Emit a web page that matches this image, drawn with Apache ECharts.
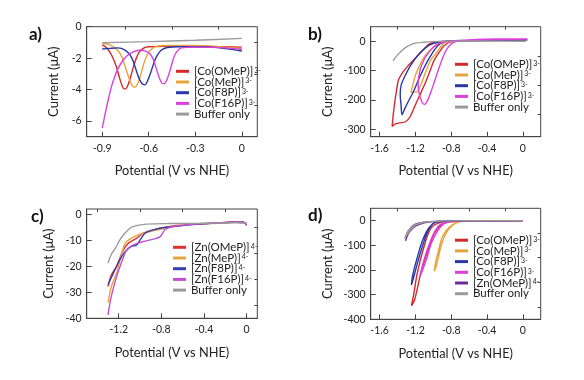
<!DOCTYPE html>
<html><head><meta charset="utf-8">
<script src="https://cdn.jsdelivr.net/npm/echarts@6/dist/echarts.min.js"></script>
<style>html,body{margin:0;padding:0;background:#fff}#c{width:584px;height:380px}</style>
</head><body><div id="c"></div>
<script>
// ---------- DATA ----------
const panelLabels = ['a)', 'b)', 'c)', 'd)'];
const xTitle = 'Potential (V vs NHE)';
const yTitle = 'Current (\u03bcA)';

// tick labels (major) and minor tick positions
const aXTicks = [-0.9, -0.6, -0.3, 0];
const aXMinor = [-0.75, -0.45, -0.15];
const aYTicks = [0, -2, -4, -6];
const aYMinor = [-1, -3, -5];
const bXTicks = [-1.6, -1.2, -0.8, -0.4, 0];
const bXMinor = [-1.4, -1.0, -0.6, -0.2];
const bYTicks = [0, -100, -200, -300];
const bYMinor = [-50, -150, -250];
const cXTicks = [-1.2, -0.8, -0.4, 0];
const cXMinor = [-1.4, -1.0, -0.6, -0.2];
const cYTicks = [0, -10, -20, -30, -40];
const cYMinor = [-5, -15, -25, -35];
const dXTicks = [-1.6, -1.2, -0.8, -0.4, 0];
const dXMinor = [-1.4, -1.0, -0.6, -0.2];
const dYTicks = [0, -100, -200, -300, -400];
const dYMinor = [-50, -150, -250, -350];

// series names (complex name + charge shown as superscript)
const coNames = ['[Co(OMeP)]|3-', '[Co(MeP)]|3-', '[Co(F8P)]|3-', '[Co(F16P)]|3-'];
const znNames = ['[Zn(OMeP)]|4-', '[Zn(MeP)]|4-', '[Zn(F8P)]|4-', '[Zn(F16P)]|4-'];
const bufferName = 'Buffer only';

// panel a (V, uA)
const aOMeP = [[-0.9,-1.15],[-0.87,-1.35],[-0.84,-1.8],[-0.81,-2.5],[-0.79,-3.2],[-0.77,-3.8],[-0.755,-3.97],[-0.74,-3.85],[-0.72,-3.3],[-0.70,-2.6],[-0.68,-2.0],[-0.66,-1.6],[-0.63,-1.35],[-0.6,-1.28],[-0.5,-1.25],[-0.3,-1.25],[-0.1,-1.28],[0,-1.3]];
const aMeP = [[-0.9,-1.05],[-0.85,-1.15],[-0.8,-1.5],[-0.77,-2.0],[-0.75,-2.6],[-0.73,-3.2],[-0.71,-3.7],[-0.69,-3.85],[-0.67,-3.6],[-0.65,-3.0],[-0.63,-2.3],[-0.61,-1.8],[-0.58,-1.4],[-0.55,-1.25],[-0.5,-1.2],[-0.3,-1.2],[-0.1,-1.3],[0,-1.4]];
const aF8P = [[-0.9,-1.42],[-0.85,-1.38],[-0.8,-1.35],[-0.75,-1.5],[-0.72,-1.8],[-0.7,-2.2],[-0.68,-2.8],[-0.66,-3.35],[-0.64,-3.65],[-0.625,-3.7],[-0.61,-3.5],[-0.59,-3.0],[-0.57,-2.4],[-0.55,-1.9],[-0.52,-1.5],[-0.48,-1.32],[-0.4,-1.28],[-0.2,-1.3],[0,-1.55]];
const aF16P = [[-0.9,-6.45],[-0.88,-5.5],[-0.86,-4.6],[-0.84,-3.8],[-0.82,-3.2],[-0.8,-2.7],[-0.77,-2.2],[-0.74,-1.85],[-0.7,-1.6],[-0.66,-1.5],[-0.62,-1.55],[-0.59,-1.75],[-0.57,-2.1],[-0.55,-2.7],[-0.53,-3.3],[-0.51,-3.62],[-0.495,-3.6],[-0.48,-3.3],[-0.46,-2.7],[-0.44,-2.0],[-0.42,-1.6],[-0.39,-1.35],[-0.3,-1.3],[-0.1,-1.35],[0,-1.45]];
const aBuffer = [[-0.9,-1.02],[-0.6,-0.95],[-0.3,-0.86],[0,-0.74]];

// panel b (cyclic scans)
const bOMeP = [[0.05,6],[-0.4,4],[-0.7,1],[-0.8,-1],[-0.88,-15],[-0.93,-35],[-0.99,-64],[-1.04,-103],[-1.1,-149],[-1.16,-189],[-1.21,-223],[-1.26,-257],[-1.31,-274],[-1.38,-278],[-1.43,-282],[-1.46,-290],[-1.45,-255],[-1.43,-205],[-1.41,-165],[-1.39,-132],[-1.34,-105],[-1.29,-86],[-1.17,-47],[-1.1,-25],[-1.04,-8],[-0.95,-1],[-0.6,2],[-0.2,4],[0.05,6]];
const bMeP = [[0.05,5],[-0.5,3],[-0.8,0],[-0.88,-5],[-0.93,-24],[-0.98,-45],[-1.03,-64],[-1.08,-100],[-1.13,-140],[-1.17,-168],[-1.2,-173],[-1.25,-173],[-1.23,-150],[-1.2,-115],[-1.15,-80],[-1.1,-52],[-1.0,-20],[-0.9,-4],[-0.7,1],[0.05,5]];
const bF8P = [[0.05,5],[-0.5,3],[-0.85,0],[-0.95,-15],[-1.05,-60],[-1.15,-120],[-1.22,-170],[-1.28,-205],[-1.32,-230],[-1.35,-250],[-1.36,-220],[-1.37,-180],[-1.36,-150],[-1.32,-120],[-1.25,-80],[-1.15,-40],[-1.05,-14],[-0.95,-3],[-0.8,1],[0.05,5]];
const bF16P = [[0.05,8],[-0.3,8],[-0.6,5],[-0.72,1],[-0.78,-4],[-0.83,-18],[-0.88,-45],[-0.93,-85],[-0.98,-130],[-1.03,-175],[-1.07,-205],[-1.1,-215],[-1.13,-205],[-1.16,-175],[-1.17,-145],[-1.15,-100],[-1.1,-60],[-1.03,-30],[-0.97,-12],[-0.88,-2],[-0.7,3],[0.05,8]];
const bBuffer = [[0.03,0],[-0.5,1],[-0.9,0],[-1.0,-1],[-1.1,-3],[-1.2,-6],[-1.25,-11],[-1.3,-19],[-1.35,-31],[-1.4,-46],[-1.45,-66]];

// panel c
const cOMeP = [[-1.3,-27.8],[-1.27,-23.5],[-1.22,-20],[-1.19,-17],[-1.156,-13.7],[-1.11,-11.2],[-1.03,-9.2],[-0.97,-7.3],[-0.875,-6],[-0.69,-4.5],[-0.44,-3.7],[-0.2,-3.2],[-0.06,-2.9],[-0.02,-3.2],[0,-4.3]];
const cMeP = [[-1.3,-34],[-1.27,-28],[-1.22,-22.7],[-1.17,-15],[-1.14,-11.2],[-1.08,-9.2],[-1.0,-7.7],[-0.906,-6.7],[-0.81,-5.8],[-0.69,-4.7],[-0.44,-3.8],[-0.2,-3.3],[-0.06,-3.0],[-0.02,-3.3],[0,-4.3]];
const cF8P = [[-1.3,-27],[-1.25,-22.7],[-1.19,-17.6],[-1.14,-14.4],[-1.08,-12.4],[-1.03,-11.8],[-1.0,-9.9],[-0.953,-7.3],[-0.875,-6],[-0.75,-5],[-0.44,-3.8],[-0.2,-3.2],[-0.06,-2.9],[-0.02,-3.2],[0,-4.1]];
const cF16P = [[-1.3,-38.7],[-1.27,-31.7],[-1.22,-24],[-1.17,-18.2],[-1.125,-13.7],[-1.06,-11.8],[-0.97,-10.5],[-0.875,-9.6],[-0.81,-8.6],[-0.766,-6],[-0.69,-4.7],[-0.44,-3.7],[-0.2,-3.2],[-0.06,-2.9],[-0.02,-3.2],[0,-4.2]];
const cBuffer = [[-1.3,-18.8],[-1.27,-15.5],[-1.23,-13],[-1.19,-10],[-1.156,-8],[-1.1,-5.6],[-1.06,-4.7],[-0.94,-3.8],[-0.7,-3.6],[-0.44,-3.5],[-0.1,-3.3],[0,-3.5]];

// panel d (cyclic scans)
const dOMeP = [[0,0],[-0.5,-1],[-0.7,-3],[-0.82,-5],[-0.92,-19],[-0.99,-52],[-1.06,-120],[-1.14,-214],[-1.21,-322],[-1.245,-345],[-1.22,-300],[-1.18,-214],[-1.1,-100],[-1.03,-32],[-0.93,-8],[-0.8,-2],[0,0]];
const dMeP = [[0,0],[-0.5,-1],[-0.64,-2],[-0.71,-5],[-0.785,-19],[-0.86,-53],[-0.916,-106],[-0.964,-180],[-0.99,-205],[-0.97,-160],[-0.95,-133],[-0.9,-66],[-0.82,-26],[-0.73,-7],[-0.64,-1],[0,0]];
const dF8P = [[0,0],[-0.6,-1],[-0.85,-3],[-0.97,-6],[-1.05,-35],[-1.1,-80],[-1.16,-150],[-1.22,-230],[-1.245,-261],[-1.23,-220],[-1.18,-150],[-1.12,-80],[-1.05,-30],[-0.97,-5],[-0.8,-1],[0,0]];
const dF16P = [[0,0],[-0.6,-1],[-0.8,-4],[-0.88,-12],[-0.95,-40],[-1.02,-90],[-1.08,-160],[-1.13,-210],[-1.15,-225],[-1.12,-180],[-1.07,-120],[-1.0,-55],[-0.93,-18],[-0.84,-4],[-0.7,-1],[0,0]];
const dZnOMeP = [[0,0],[-0.6,-1],[-0.95,-3],[-1.1,-6],[-1.2,-14],[-1.25,-28],[-1.28,-50],[-1.31,-82],[-1.29,-60],[-1.25,-38],[-1.2,-22],[-1.1,-9],[-1.0,-4],[-0.8,-1],[0,0]];
const dBuffer = [[0,0],[-0.8,-1],[-1.0,-3],[-1.1,-7],[-1.2,-18],[-1.25,-34],[-1.3,-60],[-1.32,-72],[-1.28,-40],[-1.22,-20],[-1.15,-9],[-1.05,-4],[-0.9,-1],[0,0]];

// ---------- STYLE / LAYOUT ----------
const FONT = 'Lato';
const TXT = '#222';
const AX = '#444';
const COL = {red:'#d42a2a', orange:'#e8a43c', blue:'#2838a8', magenta:'#dd3fdd', gray:'#9a9a9a', purple:'#6a2a9a'};
const ROW = 10.7;

const panels = [
  {grid:{left:86.7, top:26.7, width:170.6, height:110}, x:[-1.0,0.1], y:[-7,0], xt:aXTicks, xm:aXMinor, yt:aYTicks, ym:aYMinor, yGap:26, xGap:28,
   label:{left:29, top:26}, legend:{left:176, top:65.3},
   series:[[coNames[0],aOMeP,COL.red],[coNames[1],aMeP,COL.orange],[coNames[2],aF8P,COL.blue],[coNames[3],aF16P,COL.magenta],[bufferName,aBuffer,COL.gray]]},
  {grid:{left:370.7, top:26.7, width:170, height:110}, x:[-1.7,0.2], y:[-325,50], xt:bXTicks, xm:bXMinor, yt:bYTicks, ym:bYMinor, yGap:36, xGap:28,
   label:{left:308, top:26}, legend:{left:455, top:58.3},
   series:[[coNames[0],bOMeP,COL.red],[coNames[1],bMeP,COL.orange],[coNames[2],bF8P,COL.blue],[coNames[3],bF16P,COL.magenta],[bufferName,bBuffer,COL.gray]]},
  {grid:{left:86.7, top:209, width:170.6, height:109.3}, x:[-1.5,0.1], y:[-40,2], xt:cXTicks, xm:cXMinor, yt:cYTicks, ym:cYMinor, yGap:31, xGap:28,
   label:{left:31, top:208}, legend:{left:173, top:241.3},
   series:[[znNames[0],cOMeP,'#e03030'],[znNames[1],cMeP,COL.orange],[znNames[2],cF8P,'#3040b0'],[znNames[3],cF16P,'#c050d0'],[bufferName,cBuffer,COL.gray]]},
  {grid:{left:370.7, top:208.3, width:170, height:111}, x:[-1.7,0.2], y:[-400,50], xt:dXTicks, xm:dXMinor, yt:dYTicks, ym:dYMinor, yGap:36, xGap:28,
   label:{left:308, top:207}, legend:{left:455, top:234.2},
   series:[[coNames[0],dOMeP,COL.red],[coNames[1],dMeP,COL.orange],[coNames[2],dF8P,COL.blue],[coNames[3],dF16P,COL.magenta],[znNames[0],dZnOMeP,COL.purple],[bufferName,dBuffer,COL.gray]]}
];

const fmt = v => (Math.abs(v) < 1e-9 ? '0' : String(+v.toFixed(2)));
const legendFmt = name => {
  const parts = name.split('|');
  return '{n|' + parts[0] + '}{s|' + (parts.length > 1 ? parts[1] : ' ') + '}';
};
const grid = [], xAxis = [], yAxis = [], series = [], legend = [], title = [];

panels.forEach((p, i) => {
  grid.push(Object.assign({show:true, borderColor:AX, borderWidth:1, backgroundColor:'transparent', containLabel:false}, p.grid));
  xAxis.push({type:'value', gridIndex:i, min:p.x[0], max:p.x[1], splitLine:{show:false},
    axisLine:{show:true, onZero:false, lineStyle:{color:AX, width:1}},
    axisTick:{show:true, inside:true, length:5, customValues:p.xt, lineStyle:{color:AX}},
    axisLabel:{show:true, customValues:p.xt, formatter:fmt, margin:6, color:TXT, fontFamily:FONT, fontSize:10.5},
    name:xTitle, nameLocation:'middle', nameGap:p.xGap, nameTextStyle:{color:TXT, fontFamily:FONT, fontSize:12.8}});
  xAxis.push({type:'value', gridIndex:i, min:p.x[0], max:p.x[1], splitLine:{show:false},
    axisLine:{show:false, onZero:false},
    axisTick:{show:true, inside:true, length:3, customValues:p.xm, lineStyle:{color:AX}},
    axisLabel:{show:false}});
  yAxis.push({type:'value', gridIndex:i, min:p.y[0], max:p.y[1], splitLine:{show:false},
    axisLine:{show:true, onZero:false, lineStyle:{color:AX, width:1}},
    axisTick:{show:true, inside:true, length:5, customValues:p.yt, lineStyle:{color:AX}},
    axisLabel:{show:true, customValues:p.yt, formatter:fmt, margin:5, color:TXT, fontFamily:FONT, fontSize:10.5},
    name:yTitle, nameLocation:'middle', nameGap:p.yGap, nameTextStyle:{color:TXT, fontFamily:FONT, fontSize:13}});
  yAxis.push({type:'value', gridIndex:i, min:p.y[0], max:p.y[1], splitLine:{show:false},
    axisLine:{show:false, onZero:false},
    axisTick:{show:true, inside:true, length:3, customValues:p.ym, lineStyle:{color:AX}},
    axisLabel:{show:false}});
  p.series.forEach((s, k) => {
    series.push({type:'line', name:s[0], data:s[1], xAxisIndex:2*i, yAxisIndex:2*i,
      showSymbol:false, symbol:'none', smooth:0.3, lineStyle:{color:s[2], width:1.4}, itemStyle:{color:s[2]},
      animation:false, silent:true});
    // one legend row per entry so that the rows are evenly spaced
    legend.push({orient:'vertical', left:p.legend.left, top:p.legend.top + k * ROW, padding:0, itemGap:0,
      itemWidth:13, itemHeight:3, icon:'rect',
      data:[{name:s[0], itemStyle:{color:s[2]}}],
      formatter:legendFmt,
      textStyle:{color:TXT, fontFamily:FONT, fontSize:11.5, lineHeight:ROW,
        rich:{n:{fontFamily:FONT, fontSize:11.5, lineHeight:ROW, color:TXT},
              s:{fontFamily:FONT, fontSize:7, lineHeight:ROW, verticalAlign:'top', color:TXT, padding:[1,0,0,1]}}},
      selectedMode:false});
  });
  title.push({text:panelLabels[i], left:p.label.left, top:p.label.top, padding:0,
    textStyle:{color:'#111', fontFamily:FONT, fontWeight:'bold', fontSize:17}});
});

const chart = echarts.init(document.getElementById('c'), null, {renderer:'canvas'});
chart.setOption({backgroundColor:'#fff', animation:false, title, grid, xAxis, yAxis, legend, series});
</script>
</body></html>
